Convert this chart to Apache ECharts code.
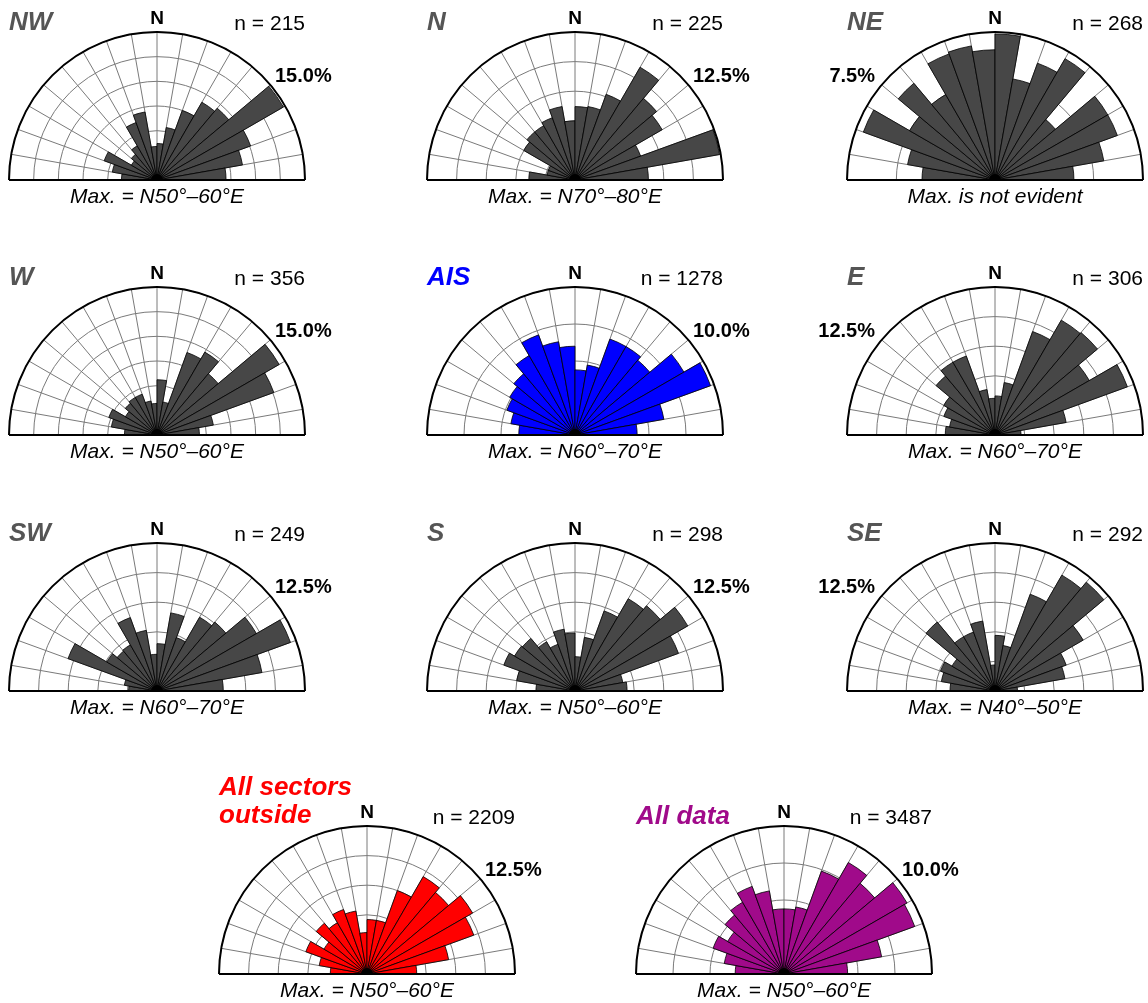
<!DOCTYPE html>
<html>
<head>
<meta charset="utf-8">
<script src="https://cdn.jsdelivr.net/npm/echarts@6/dist/echarts.min.js"></script>
<style>
html,body{margin:0;padding:0;background:#ffffff;}
#chart{width:1148px;height:1003px;}
</style>
</head>
<body>
<div id="chart"></div>
<script>
// ---------- DATA ----------
const sectors = ['N90°W–N80°W','N80°W–N70°W','N70°W–N60°W','N60°W–N50°W','N50°W–N40°W','N40°W–N30°W',
  'N30°W–N20°W','N20°W–N10°W','N10°W–N0°','N0°–N10°E','N10°E–N20°E','N20°E–N30°E',
  'N30°E–N40°E','N40°E–N50°E','N50°E–N60°E','N60°E–N70°E','N70°E–N80°E','N80°E–N90°E'];

const panelNames = ['NW','N','NE','W','AIS','E','SW','S','SE','All sectors\noutside','All data'];
const nCounts = [215, 225, 268, 356, 1278, 306, 249, 298, 292, 2209, 3487];
const scaleMax = [15, 12.5, 7.5, 15, 10, 12.5, 12.5, 12.5, 12.5, 12.5, 10];
const maxTexts = ['Max. = N50°–60°E','Max. = N70°–80°E','Max. is not evident',
  'Max. = N50°–60°E','Max. = N60°–70°E','Max. = N60°–70°E',
  'Max. = N60°–70°E','Max. = N50°–60°E','Max. = N40°–50°E',
  'Max. = N50°–60°E','Max. = N50°–60°E'];

// percentage of measurements per 10° sector (W -> N -> E)
const valsNW  = [3.6, 4.6, 5.7, 3.0, 3.4, 4.0, 6.2, 7.0, 3.4, 3.7, 5.4, 7.5, 9.1, 9.5, 14.8, 10.1, 8.8, 7.0];
const valsN   = [3.9, 2.4, 2.4, 5.0, 5.3, 5.3, 5.6, 6.3, 5.0, 6.2, 6.3, 7.7, 11.0, 9.0, 8.5, 5.9, 12.4, 6.2];
const valsNE  = [3.7, 4.5, 7.1, 5.0, 6.4, 5.0, 6.8, 6.9, 6.6, 7.4, 5.2, 6.3, 7.1, 4.0, 6.6, 6.6, 5.6, 4.0];
const valsW   = [3.3, 4.7, 5.2, 3.7, 4.2, 4.4, 4.4, 3.5, 3.2, 5.6, 3.4, 8.9, 9.7, 8.1, 14.3, 12.6, 5.8, 4.3];
const valsAIS = [3.8, 4.4, 4.9, 5.1, 5.4, 6.2, 7.2, 6.4, 6.0, 4.4, 4.8, 6.9, 6.9, 6.6, 8.5, 9.75, 6.1, 4.2];
const valsE   = [4.2, 3.9, 4.6, 5.0, 6.5, 7.1, 7.1, 3.9, 3.1, 3.3, 4.5, 9.3, 11.2, 11.3, 9.2, 11.9, 6.1, 2.2];
const valsSW  = [2.4, 2.8, 8.0, 4.9, 4.4, 4.5, 6.6, 5.2, 3.1, 4.0, 6.7, 4.8, 7.2, 7.6, 9.7, 12.0, 9.0, 5.6];
const valsS   = [3.3, 5.0, 6.4, 5.9, 5.8, 4.8, 4.2, 5.3, 4.9, 2.9, 4.6, 7.2, 9.0, 9.4, 11.0, 9.3, 4.1, 4.4];
const valsSE  = [3.8, 4.6, 4.9, 4.2, 7.6, 5.3, 5.3, 6.0, 2.2, 4.7, 3.9, 8.7, 11.3, 12.0, 8.6, 6.4, 6.0, 1.9];
const valsOut = [3.1, 4.1, 5.5, 4.2, 5.6, 5.0, 5.8, 5.4, 3.5, 4.6, 4.6, 7.5, 9.5, 9.0, 10.3, 9.6, 7.0, 4.2];
const valsAll = [3.3, 4.1, 5.1, 4.4, 5.2, 5.6, 6.3, 5.7, 4.4, 4.4, 4.6, 7.4, 8.7, 8.0, 9.6, 9.4, 6.7, 4.3];

const panelValues = [valsNW, valsN, valsNE, valsW, valsAIS, valsE, valsSW, valsS, valsSE, valsOut, valsAll];

// ---------- LAYOUT / STYLE ----------
const R = 148;
const centers = [[157,180],[575,180],[995,180],
                 [157,435],[575,435],[995,435],
                 [157,691],[575,691],[995,691],
                 [367,974],[784,974]];
const pctSide = ['right','right','left','right','right','left','right','right','left','right','right'];
const barColors = ['#474747','#474747','#474747','#474747','#0000ff','#474747','#474747','#474747','#474747','#ff0000','#a00a8a'];
const titleColors = ['#555555','#555555','#555555','#555555','#0000ff','#555555','#555555','#555555','#555555','#ff0000','#a00a8a'];
const FONT = '"Liberation Sans", Arial, Helvetica, sans-serif';

const polar = [], angleAxis = [], radiusAxis = [], series = [], graphic = [];

panelValues.forEach((vals, i) => {
  const [cx, cy] = centers[i];
  polar.push({ center: [cx, cy], radius: R });
  angleAxis.push({
    polarIndex: i, type: 'category', data: sectors,
    startAngle: 180, endAngle: 0, clockwise: true, boundaryGap: true,
    axisLine: { show: true, lineStyle: { color: '#000', width: 2 } },
    axisTick: { show: false, interval: 0 },
    axisLabel: { show: false, interval: 0 },
    splitLine: { show: true, interval: 0, lineStyle: { color: '#7a7a7a', width: 1 } }
  });
  radiusAxis.push({
    polarIndex: i, type: 'value', min: 0, max: scaleMax[i], interval: 2.5,
    axisLine: { show: false }, axisTick: { show: false }, axisLabel: { show: false },
    splitLine: { show: true, lineStyle: { color: '#7a7a7a', width: 1 } }
  });
  series.push({
    type: 'bar', coordinateSystem: 'polar', polarIndex: i,
    data: vals, barCategoryGap: '0%', barGap: '0%',
    itemStyle: { color: barColors[i], borderColor: '#000', borderWidth: 0.8 },
    silent: true, animation: false
  });

  // baseline (diameter)
  graphic.push({ type: 'line', z: 100,
    shape: { x1: cx - R, y1: cy, x2: cx + R, y2: cy },
    style: { stroke: '#000', lineWidth: 2 } });
  // dense hub where the sector edges converge
  graphic.push({ type: 'sector', z: 99,
    shape: { cx: cx, cy: cy, r: 6, startAngle: Math.PI, endAngle: 2 * Math.PI },
    style: { fill: '#000' } });

  // panel title
  const lines = panelNames[i].split('\n');
  lines.forEach((t, k) => {
    const y = lines.length === 1 ? cy - 157 : cy - 186 + k * 28;
    graphic.push({ type: 'text', z: 100, x: cx - R, y: y,
      style: { text: t, font: 'italic bold 26px ' + FONT, fill: titleColors[i],
               align: 'left', verticalAlign: 'middle', textAlign: 'left', textVerticalAlign: 'middle' } });
  });
  // N label
  graphic.push({ type: 'text', z: 100, x: cx, y: cy - 161,
    style: { text: 'N', font: 'bold 19px ' + FONT, fill: '#000',
             align: 'center', verticalAlign: 'middle', textAlign: 'center', textVerticalAlign: 'middle' } });
  // n = ...
  graphic.push({ type: 'text', z: 100, x: cx + R, y: cy - 156,
    style: { text: 'n = ' + nCounts[i], font: '21px ' + FONT, fill: '#000',
             align: 'right', verticalAlign: 'middle', textAlign: 'right', textVerticalAlign: 'middle' } });
  // scale label
  const right = pctSide[i] === 'right';
  graphic.push({ type: 'text', z: 100, x: right ? cx + 118 : cx - 120, y: cy - 104,
    style: { text: scaleMax[i].toFixed(1) + '%', font: 'bold 20px ' + FONT, fill: '#000',
             align: right ? 'left' : 'right', verticalAlign: 'middle',
             textAlign: right ? 'left' : 'right', textVerticalAlign: 'middle' } });
  // Max label
  graphic.push({ type: 'text', z: 100, x: cx, y: cy + 17,
    style: { text: maxTexts[i], font: 'italic 21px ' + FONT, fill: '#000',
             align: 'center', verticalAlign: 'middle', textAlign: 'center', textVerticalAlign: 'middle' } });
});

const chart = echarts.init(document.getElementById('chart'), null, { renderer: 'canvas' });
chart.setOption({
  backgroundColor: '#ffffff',
  animation: false,
  polar, angleAxis, radiusAxis, series, graphic
});
</script>
</body>
</html>
